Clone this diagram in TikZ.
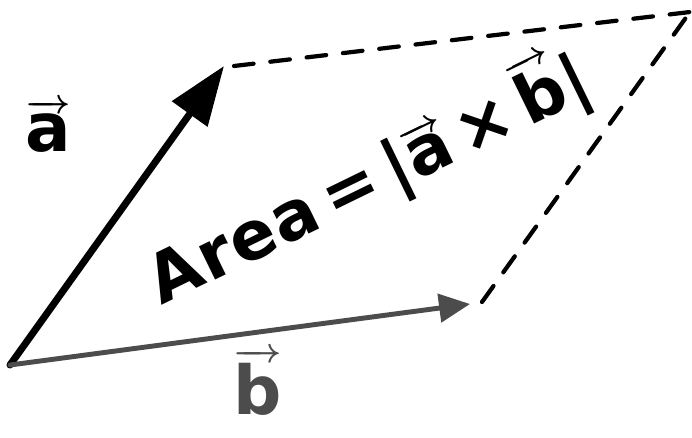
\documentclass[tikz,border=0pt]{standalone}
\usepackage{fontspec}
\setmainfont{DejaVu Sans}
\usepackage{amsmath}
\usetikzlibrary{arrows.meta,positioning}

\begin{document}
\begin{tikzpicture}[x=0.025cm, y=-0.025cm,
    vecA/.style={line width=5pt, line cap=round, -{Triangle[length=42pt, width=30pt]}},
    vecB/.style={line width=3.5pt, line cap=round, gray!60!black, -{Triangle[length=22pt, width=20pt]}},
    edge/.style={line width=3pt, line cap=round, dash pattern=on 14pt off 12pt},
    hand/.style={font=\fontsize{48}{56}\selectfont\bfseries\boldmath}]
  \useasboundingbox (0,0) rectangle (692,437);
  % Corners of the parallelogram
  \coordinate (O) at (10,365);
  \coordinate (tipA) at (224,66);
  \coordinate (tipB) at (470,304);
  \coordinate (far) at (690,12);
  % Vectors
  \draw[vecA] (O) -- (tipA);
  \draw[vecB] (O) -- (tipB);
  % Dashed sides
  \draw[edge] (tipA) ++(10,0) coordinate (startA) (startA) -- (far);
  \draw[edge] (tipB) ++(12,-2) coordinate (startB) (startB) -- (far);
  % Labels
  \node[hand] (labA) at (48,126) {$\overrightarrow{\mbox{a}}$};
  \node[hand, gray!60!black] (labB) at (258,382) {$\overrightarrow{\mbox{b}}$};
  \node[hand, rotate=26] (area) at (368,178)
    {A\kern1pt r\kern1pt e\kern1pt a\,=\,|$\overrightarrow{\mbox{a}}$\,×\,$\overrightarrow{\mbox{b}}$|};
\end{tikzpicture}
\end{document}
